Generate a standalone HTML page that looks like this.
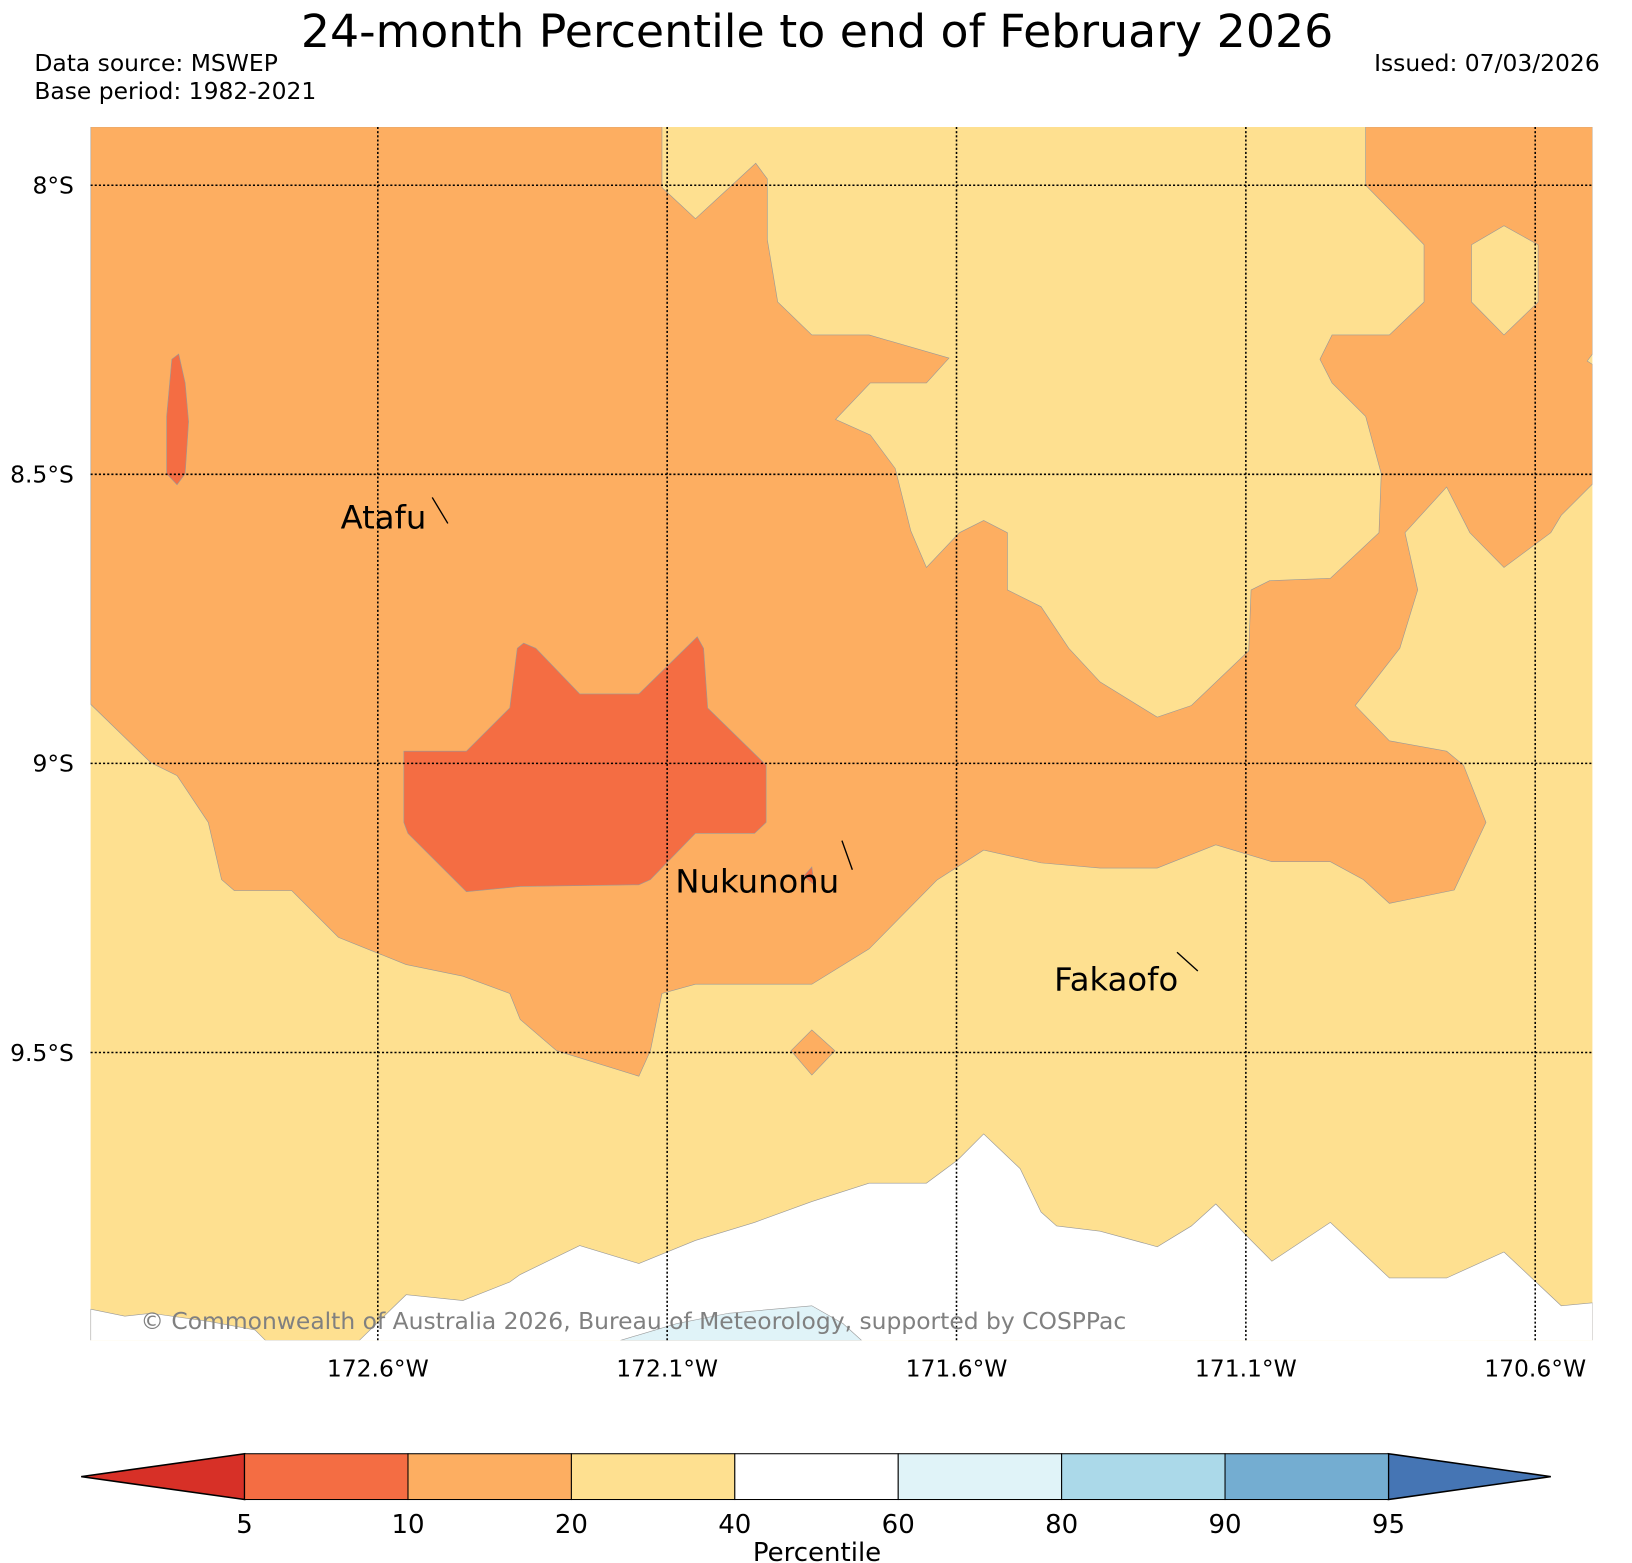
<!DOCTYPE html>
<html><head><meta charset="utf-8">
<style>
html,body{margin:0;padding:0;background:#fff;}
svg{display:block;font-family:"DejaVu Sans","Liberation Sans",sans-serif;}
</style></head>
<body>
<svg id="chart" width="1632" height="1563" viewBox="0 0 1568 1502" preserveAspectRatio="none" xmlns="http://www.w3.org/2000/svg">
<defs><clipPath id="mapclip"><rect x="87" y="122" width="1443" height="1166"/></clipPath></defs>
<text x="785" y="45" font-size="44" text-anchor="middle">24-month Percentile to end of February 2026</text>
<text x="33" y="68" font-size="22.5">Data source: MSWEP</text>
<text x="33" y="95" font-size="22.5">Base period: 1982-2021</text>
<text x="1537" y="68" font-size="22.5" text-anchor="end">Issued: 07/03/2026</text>
<g id="map" clip-path="url(#mapclip)"></g>
<g id="grid"></g>
<g id="labels"></g>
<text x="135" y="1277" font-size="22.5" fill="#808080">© Commonwealth of Australia 2026, Bureau of Meteorology, supported by COSPPac</text>
<g id="axes"></g>
<g id="cbar"></g>
</svg>
<script>
// Longitudes in degrees West, latitudes in degrees South
const lonTicks = [172.6, 172.1, 171.6, 171.1, 170.6];
const latTicks = [8, 8.5, 9, 9.5];
const lonTickLabels = ["172.6°W","172.1°W","171.6°W","171.1°W","170.6°W"];
const latTickLabels = ["8°S","8.5°S","9°S","9.5°S"];
const cbBounds = [5,10,20,40,60,80,90,95];
const cbColors = ["#f46d43","#fdae61","#fee090","#ffffff","#e0f3f8","#abd9e9","#74add1"];
const cbUnder = "#d73027", cbOver = "#4575b4";
const places = ["Atafu","Nukunonu","Fakaofo"];
const placeLon = [172.479, 171.78, 171.183];
const placeLat = [8.585, 9.184, 9.359];

const band10to20 = [[173.096,7.899],[172.109,7.899],[172.109,8.004],[172.051,8.058],[171.947,7.962],[171.927,7.989],[171.927,8.094],[171.909,8.202],[171.85,8.259],[171.751,8.259],[171.613,8.299],[171.652,8.342],[171.749,8.342],[171.809,8.405],[171.749,8.432],[171.706,8.49],[171.679,8.598],[171.652,8.661],[171.595,8.601],[171.553,8.58],[171.512,8.601],[171.512,8.7],[171.454,8.729],[171.406,8.801],[171.352,8.859],[171.253,8.92],[171.194,8.9],[171.095,8.805],[171.091,8.7],[171.059,8.684],[170.954,8.68],[170.87,8.601],[170.866,8.499],[170.893,8.4],[170.951,8.342],[170.972,8.301],[170.951,8.259],[170.852,8.259],[170.792,8.202],[170.792,8.103],[170.893,8.0],[170.893,7.899],[170.501,7.899],[170.501,8.292],[170.51,8.304],[170.501,8.31],[170.501,8.517],[170.555,8.571],[170.573,8.601],[170.654,8.661],[170.713,8.601],[170.753,8.522],[170.825,8.601],[170.803,8.7],[170.834,8.801],[170.911,8.9],[170.852,8.961],[170.753,8.979],[170.724,9.003],[170.685,9.102],[170.74,9.219],[170.852,9.242],[170.897,9.201],[170.954,9.17],[171.055,9.17],[171.152,9.141],[171.253,9.181],[171.352,9.181],[171.454,9.172],[171.553,9.15],[171.634,9.202],[171.751,9.321],[171.85,9.382],[172.051,9.382],[172.109,9.398],[172.129,9.497],[172.149,9.541],[172.291,9.497],[172.354,9.443],[172.372,9.398],[172.453,9.368],[172.551,9.348],[172.668,9.301],[172.749,9.22],[172.848,9.22],[172.87,9.201],[172.893,9.102],[172.947,9.021],[172.992,8.999],[173.096,8.898]];
const band20to40Pocket = [[170.71,8.103],[170.654,8.07],[170.595,8.103],[170.595,8.202],[170.654,8.259],[170.71,8.202]];
const band5to10Main = [[172.555,8.979],[172.447,8.979],[172.372,8.904],[172.359,8.801],[172.348,8.792],[172.327,8.801],[172.251,8.88],[172.149,8.88],[172.048,8.781],[172.037,8.801],[172.03,8.904],[171.929,9.003],[171.929,9.102],[171.949,9.121],[172.051,9.121],[172.129,9.201],[172.149,9.21],[172.354,9.213],[172.447,9.222],[172.548,9.121],[172.555,9.102]];
const band5to10West = [[172.956,8.301],[172.944,8.292],[172.933,8.342],[172.927,8.409],[172.933,8.499],[172.947,8.518],[172.965,8.499],[172.965,8.4]];
const band5to10Tiny = [[171.864,9.195],[171.85,9.179],[171.846,9.21]];
const band10to20Diamond = [[171.886,9.497],[171.85,9.461],[171.81,9.497],[171.85,9.539]];
const band40to60 = [[173.096,9.944],[173.037,9.956],[172.992,9.951],[172.893,9.965],[172.812,9.98],[172.794,9.998],[172.632,9.998],[172.551,9.919],[172.453,9.929],[172.372,9.897],[172.354,9.884],[172.251,9.834],[172.149,9.865],[172.051,9.825],[171.949,9.794],[171.85,9.758],[171.751,9.726],[171.652,9.726],[171.598,9.686],[171.553,9.641],[171.49,9.701],[171.454,9.776],[171.427,9.8],[171.352,9.809],[171.253,9.836],[171.194,9.8],[171.152,9.762],[171.095,9.821],[171.055,9.861],[170.954,9.794],[170.852,9.89],[170.753,9.89],[170.654,9.845],[170.555,9.938],[170.501,9.933],[170.501,10.1],[173.096,10.1]];
const band60to80 = [[172.181,9.998],[172.084,9.969],[171.994,9.951],[171.85,9.938],[171.796,9.969],[171.764,9.998]];

const NS="http://www.w3.org/2000/svg";
const X0=87,X1=1530,Y0=122,Y1=1288;
function xS(lonW){return 363+(172.6-lonW)*556;}
function yS(latS){return 178+(latS-8)*555.6;}
function mk(tag,attrs,parent){const e=document.createElementNS(NS,tag);for(const k in attrs)e.setAttribute(k,attrs[k]);parent.appendChild(e);return e;}
function pts(arr){return arr.map(p=>xS(p[0]).toFixed(1)+","+yS(p[1]).toFixed(1)).join(" ");}

const map=document.getElementById('map');
let bg=mk('rect',{x:X0,y:Y0,width:X1-X0,height:Y1-Y0,fill:cbColors[2]},map);


const layers=[[band10to20,cbColors[1],'band-10-20'],[band20to40Pocket,cbColors[2],'band-20-40-pocket'],[band5to10Main,cbColors[0],'band-5-10-main'],[band5to10West,cbColors[0],'band-5-10-west'],[band5to10Tiny,cbColors[0],'band-5-10-small'],[band10to20Diamond,cbColors[1],'band-10-20-diamond'],[band40to60,cbColors[3],'band-40-60'],[band60to80,cbColors[4],'band-60-80']];
layers.forEach(l=>{
  const p=mk('polygon',{points:pts(l[0]),fill:l[1],stroke:'#999',"stroke-width":0.6},map);
  
  
});

const grid=document.getElementById('grid');
const axes=document.getElementById('axes');
lonTicks.forEach((v,i)=>{
  const ln=mk('line',{x1:xS(v),x2:xS(v),y1:Y0,y2:Y1,stroke:'#000',"stroke-width":1.5,"stroke-dasharray":"2,2"},grid);
  
  
  const t=mk('text',{x:xS(v),y:1323,"font-size":22.5,"text-anchor":"middle"},axes);t.textContent=lonTickLabels[i];
  
  
});
latTicks.forEach((v,i)=>{
  const ln=mk('line',{x1:X0,x2:X1,y1:yS(v),y2:yS(v),stroke:'#000',"stroke-width":1.5,"stroke-dasharray":"2,2"},grid);
  
  
  const t=mk('text',{x:71,y:yS(v)+8,"font-size":22.5,"text-anchor":"end"},axes);t.textContent=latTickLabels[i];
  
  
});

const lab=document.getElementById('labels');
const labOffsets=[[-103,5,-15,-25],[-170,22,-10,-28],[-138,19,-20,-18]];
places.forEach((n,i)=>{
  const x=xS(placeLon[i]),y=yS(placeLat[i]);const o=labOffsets[i];
  const ln=mk('line',{x1:x,y1:y,x2:x+o[2],y2:y+o[3],stroke:'#000',"stroke-width":1.3},lab);
  
  
  const t=mk('text',{x:x+o[0],y:y+o[1],"font-size":31},lab);t.textContent=n;
  
  
});

const cb=document.getElementById('cbar');
const cbL=235,cbR=1334,cbT=1397,cbB=1441,tipL=78,tipR=1490;
const seg=(cbR-cbL)/(cbBounds.length-1);
function cx(i){return cbL+i*seg;}
let tri=mk('polygon',{points:`${cbL},${cbT} ${tipL},${(cbT+cbB)/2} ${cbL},${cbB}`,fill:cbUnder,stroke:'#000',"stroke-width":1.5},cb);


tri=mk('polygon',{points:`${cbR},${cbT} ${tipR},${(cbT+cbB)/2} ${cbR},${cbB}`,fill:cbOver,stroke:'#000',"stroke-width":1.5},cb);


cbColors.forEach((c,i)=>{
  const r=mk('rect',{x:cx(i),y:cbT,width:seg,height:cbB-cbT,fill:c,stroke:'#000',"stroke-width":1},cb);
  
  
});
cbBounds.forEach((b,i)=>{
  const t=mk('text',{x:cx(i),y:1473,"font-size":25,"text-anchor":"middle"},cb);t.textContent=b;
  
  
});
const ct=mk('text',{x:785,y:1500,"font-size":25,"text-anchor":"middle"},cb);ct.textContent="Percentile";


</script>
</body></html>
